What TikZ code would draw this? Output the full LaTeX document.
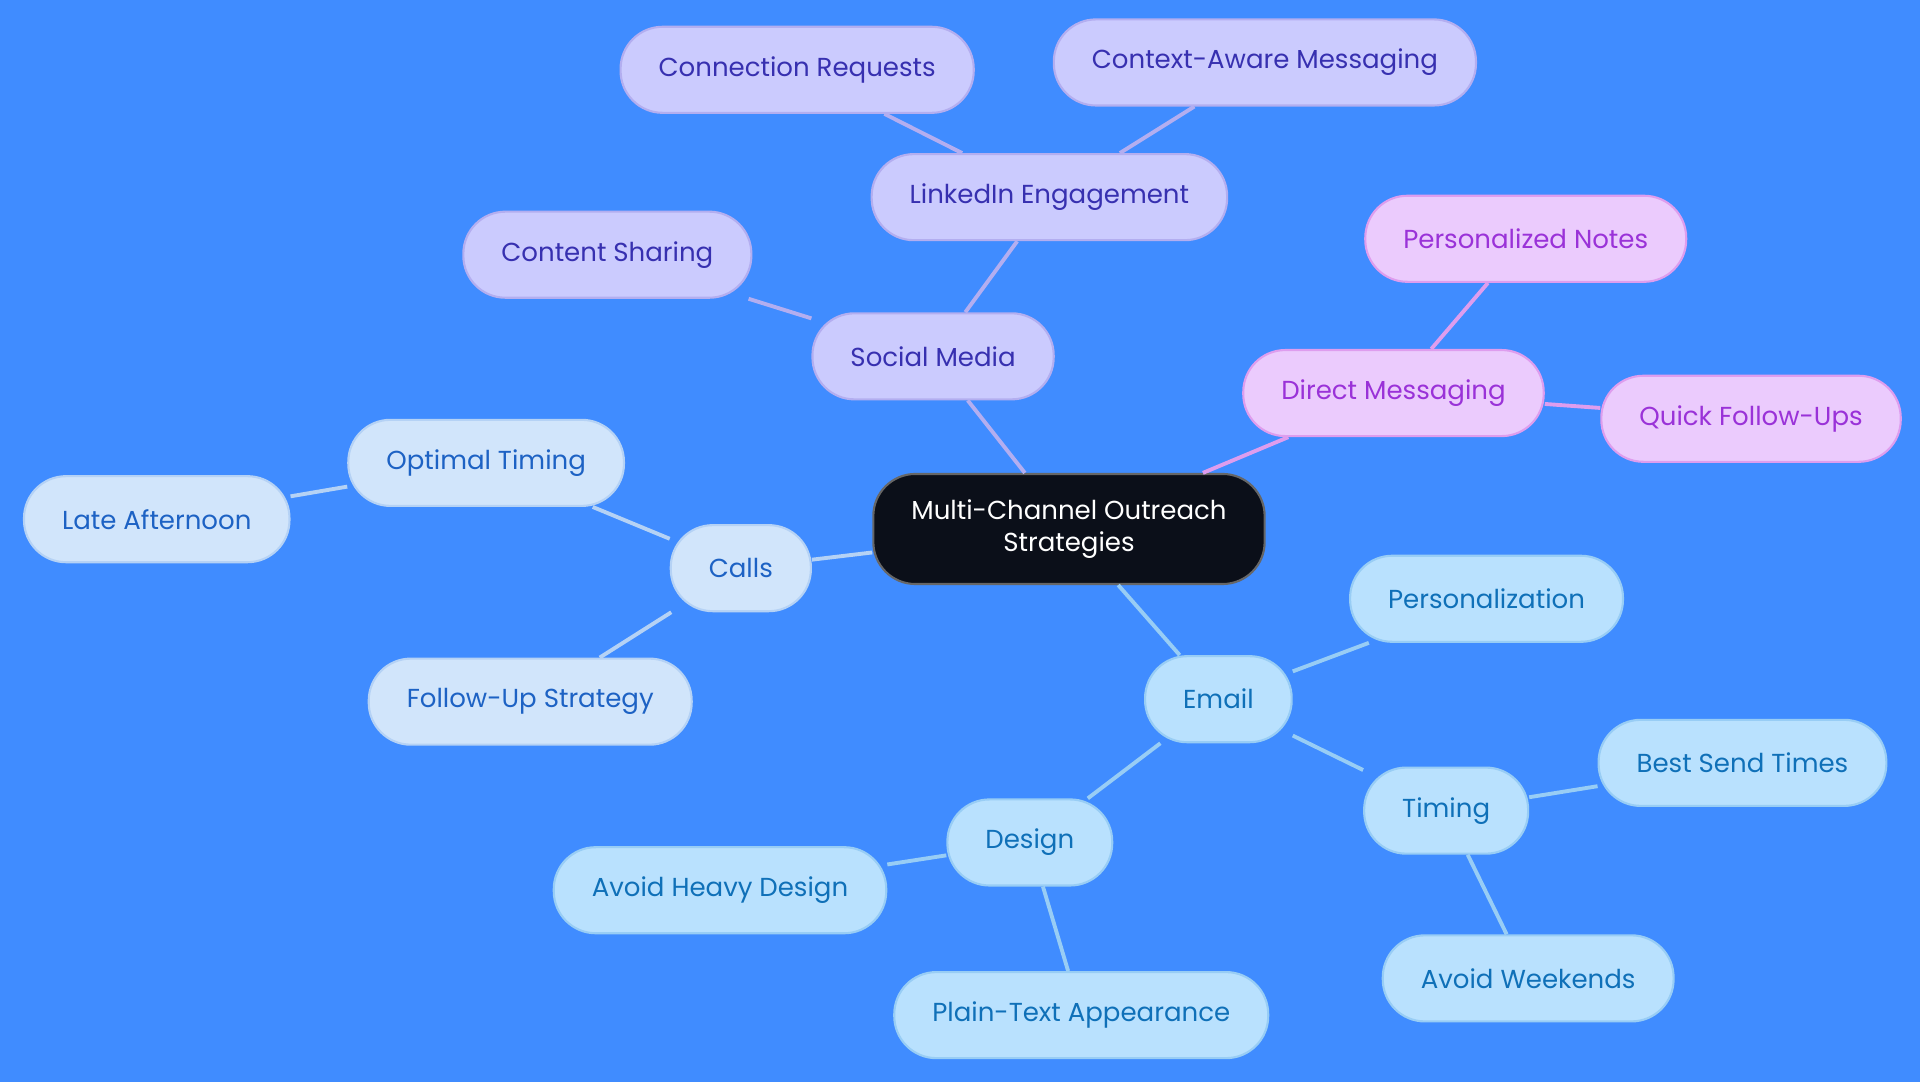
\documentclass[tikz,border=0pt]{standalone}
\usepackage{fontspec}
\setmainfont{Poppins}
\definecolor{bg}{HTML}{408CFF}
\definecolor{rootfill}{HTML}{0B0F19}
\definecolor{socfill}{HTML}{CBCBFE}
\definecolor{soctext}{HTML}{3730B0}
\definecolor{socline}{HTML}{B3AEF0}
\definecolor{dmfill}{HTML}{EBCBFD}
\definecolor{dmtext}{HTML}{9A32D8}
\definecolor{dmline}{HTML}{DE9DEE}
\definecolor{callfill}{HTML}{D1E5FB}
\definecolor{calltext}{HTML}{1D62C4}
\definecolor{callline}{HTML}{B5D2F5}
\definecolor{mailfill}{HTML}{B9E1FE}
\definecolor{mailtext}{HTML}{0F70B8}
\definecolor{mailline}{HTML}{98CDF5}
\tikzset{
  pill/.style={rounded corners=0.42cm, minimum height=0.86cm, inner xsep=0.38cm, font=\fontsize{7.4pt}{9pt}\selectfont, line width=0.6pt},
  soc/.style={pill, fill=socfill, draw=socline, text=soctext},
  dm/.style={pill, fill=dmfill, draw=dmline, text=dmtext},
  call/.style={pill, fill=callfill, draw=callline, text=calltext},
  mail/.style={pill, fill=mailfill, draw=mailline, text=mailtext},
  link/.style={line width=1.1pt}
}
\begin{document}
\begin{tikzpicture}[x=0.012245cm, y=-0.012245cm]
    \fill[bg] (0,0) rectangle (1568,884);
    \useasboundingbox (0,0) rectangle (1568,884);
    \node (root) [pill, fill=rootfill, draw=black!60, text=white, align=center, minimum width=3.39cm, minimum height=1.1cm] at (873,432) {Multi-Channel Outreach\\Strategies};
    \node (soc) [soc] at (762,291) {Social Media};
    \node (lnk) [soc] at (857,161) {LinkedIn Engagement};
    \node (req) [soc] at (651,57) {Connection Requests};
    \node (ctx) [soc] at (1033,51) {Context-Aware Messaging};
    \node (shr) [soc] at (496,208) {Content Sharing};
    \node (dm) [dm] at (1138,321) {Direct Messaging};
    \node (pnt) [dm] at (1246,195) {Personalized Notes};
    \node (qfu) [dm] at (1430,342) {Quick Follow-Ups};
    \node (call) [call] at (605,464) {Calls};
    \node (opt) [call] at (397,378) {Optimal Timing};
    \node (late) [call] at (128,424) {Late Afternoon};
    \node (fus) [call] at (433,573) {Follow-Up Strategy};
    \node (mail) [mail] at (995,571) {Email};
    \node (pers) [mail] at (1214,489) {Personalization};
    \node (tim) [mail] at (1181,662) {Timing};
    \node (best) [mail] at (1423,623) {Best Send Times};
    \node (wkd) [mail] at (1248,799) {Avoid Weekends};
    \node (des) [mail] at (841,688) {Design};
    \node (heavy) [mail] at (588,727) {Avoid Heavy Design};
    \node (plain) [mail] at (883,829) {Plain-Text Appearance};
    \begin{scope}[on background layer/.try]
    \end{scope}
    \draw[link, socline] (root) -- (soc);
    \draw[link, socline] (soc) -- (lnk);
    \draw[link, socline] (lnk) -- (req);
    \draw[link, socline] (lnk) -- (ctx);
    \draw[link, socline] (soc) -- (shr);
    \draw[link, dmline] (root) -- (dm);
    \draw[link, dmline] (dm) -- (pnt);
    \draw[link, dmline] (dm) -- (qfu);
    \draw[link, callline] (root) -- (call);
    \draw[link, callline] (call) -- (opt);
    \draw[link, callline] (opt) -- (late);
    \draw[link, callline] (call) -- (fus);
    \draw[link, mailline] (root) -- (mail);
    \draw[link, mailline] (mail) -- (pers);
    \draw[link, mailline] (mail) -- (tim);
    \draw[link, mailline] (tim) -- (best);
    \draw[link, mailline] (tim) -- (wkd);
    \draw[link, mailline] (mail) -- (des);
    \draw[link, mailline] (des) -- (heavy);
    \draw[link, mailline] (des) -- (plain);
\end{tikzpicture}
\end{document}
